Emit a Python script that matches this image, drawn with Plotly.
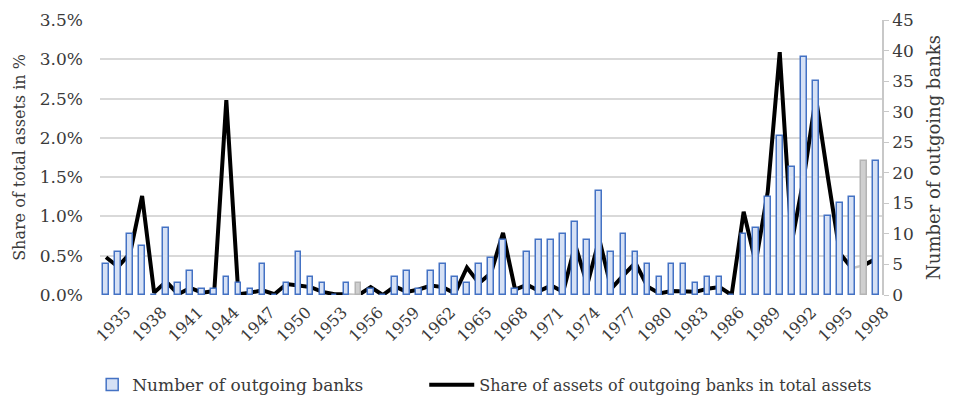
import plotly.graph_objects as go

years = list(range(1935, 2000))
banks = [5, 7, 10, 8, 0, 11, 2, 4, 1, 1,
         3, 2, 1, 5, 0, 2, 7, 3, 2, 0,
         2, 2, 1, 0, 3, 4, 1, 4, 5, 3,
         2, 5, 6, 9, 1, 7, 9, 9, 10, 12,
         9, 17, 7, 10, 7, 5, 3, 5, 5, 2,
         3, 3, 0, 10, 11, 16, 26, 21, 39, 35,
         13, 15, 16, 22, 22]
share = [0.48, 0.36, 0.53, 1.26, 0.03, 0.17, 0.01, 0.09, 0.03, 0.05,
         2.48, 0.01, 0.03, 0.06, 0.01, 0.14, 0.12, 0.10, 0.04, 0.01,
         0.01, 0.00, 0.10, 0.00, 0.11, 0.04, 0.07, 0.12, 0.10, 0.02,
         0.35, 0.15, 0.28, 0.79, 0.07, 0.13, 0.05, 0.12, 0.04, 0.64,
         0.13, 0.71, 0.08, 0.25, 0.41, 0.11, 0.02, 0.05, 0.05, 0.04,
         0.08, 0.10, 0.00, 1.06, 0.41, 1.31, 3.09, 0.67, 1.49, 2.52,
         1.50, 0.53, 0.34, 0.38, 0.46]
estimated_years = [1956, 1998]
tick_years = list(range(1935, 2000, 3))
left_ticks = [0.0, 0.5, 1.0, 1.5, 2.0, 2.5, 3.0, 3.5]
right_ticks = list(range(0, 50, 5))

FONT = "DejaVu Serif"
TXT = "#3a3a3a"
BLUE = "#4472c4"
BLUE_FILL = "#d6e1f5"
GRAY_FILL = "#cfcfcf"
GRAY_LINE = "#b4b4b4"

bar_fill = [GRAY_FILL if y in estimated_years else BLUE_FILL for y in years]
bar_line = [GRAY_LINE if y in estimated_years else BLUE for y in years]

# black line broken before estimated years, grey segments leading into them
lx, ly, gx, gy = [], [], [], []
for i, (y, v) in enumerate(zip(years, share)):
    if y in estimated_years and i > 0:
        lx.append(None); ly.append(None)
        gx += [years[i - 1], y, None]
        gy += [share[i - 1], v, None]
    lx.append(y); ly.append(v)

fig = go.Figure()
fig.add_trace(go.Bar(
    x=years, y=banks, yaxis="y2", width=0.47,
    marker=dict(color=bar_fill, line=dict(color=bar_line, width=1.5)),
    name="Number of outgoing banks", showlegend=True, legend="legend",
))
fig.add_trace(go.Scatter(
    x=gx, y=gy, mode="lines", line=dict(color="#c4c4c4", width=2.5),
    showlegend=False, hoverinfo="skip",
))
fig.add_trace(go.Scatter(
    x=lx, y=ly, mode="lines", line=dict(color="black", width=4),
    name="Share of assets of outgoing banks in total assets", legend="legend2",
))

leg_common = dict(orientation="h", yanchor="middle", y=0.041, xanchor="left",
                  xref="container", yref="container",
                  bgcolor="rgba(0,0,0,0)")

# the page body adds an 8px offset, so the figure is drawn 8px smaller
fig.update_layout(
    width=946, height=393,
    margin=dict(l=92, r=72, t=12, b=106, autoexpand=False),
    paper_bgcolor="white", plot_bgcolor="white",
    font=dict(family=FONT, color=TXT, size=15),
    bargap=0,
    xaxis=dict(
        range=[1934.5, 1999.5], tickmode="array", tickvals=tick_years,
        ticktext=[str(t) for t in tick_years], tickangle=-45,
        tickfont=dict(size=16, color=TXT), showgrid=False, zeroline=False,
        showline=False, ticks="", ticklen=0, automargin=False,
        ticklabelshift=20, ticklabelstandoff=4,
    ),
    yaxis=dict(
        range=[0, 3.5], tickmode="array", tickvals=left_ticks,
        ticktext=[f"{v:.1f}%" for v in left_ticks],
        tickfont=dict(size=17, color=TXT), showgrid=True,
        gridcolor="#d9d9d9", gridwidth=1.5, zeroline=False, showline=False,
        ticks="", ticklabelstandoff=16, automargin=False,
        title=dict(text="Share of total assets in %", font=dict(size=16, color=TXT),
                   standoff=10),
    ),
    yaxis2=dict(
        range=[0, 45], tickmode="array", tickvals=right_ticks,
        overlaying="y", side="right", showgrid=False, zeroline=False,
        showline=True, linecolor="#c8c8c8", linewidth=1.5,
        ticks="outside", ticklen=5, tickcolor="#c8c8c8",
        tickfont=dict(size=17, color=TXT), automargin=False,
        title=dict(text="Number of outgoing banks", font=dict(size=18, color=TXT),
                   standoff=15),
    ),
    legend=dict(x=0.089, itemwidth=30, font=dict(size=17, color=TXT), **leg_common),
    legend2=dict(x=0.44, itemwidth=45, font=dict(size=16, color=TXT), **leg_common),
)

fig.write_html("out.html")
